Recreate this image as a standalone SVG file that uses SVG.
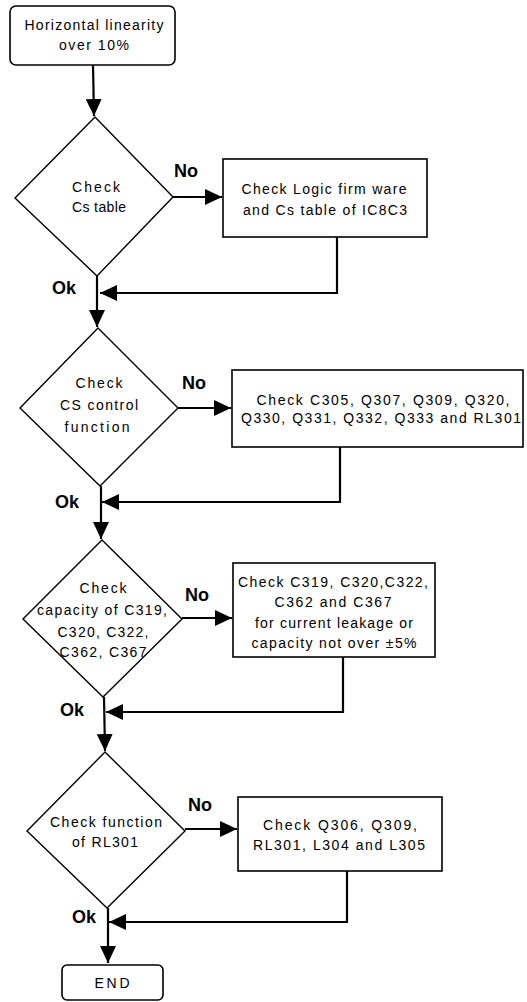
<svg xmlns="http://www.w3.org/2000/svg" width="527" height="1002" viewBox="0 0 527 1002">
<style>
.box{fill:#fff;stroke:#000;stroke-width:1.6}
.dia{fill:#fff;stroke:#000;stroke-width:1.4}
.t{font-family:"Liberation Sans",Arial,sans-serif;font-size:14px;fill:#000;text-anchor:middle}
.lbl{font-family:"Liberation Sans",Arial,sans-serif;font-size:18px;font-weight:bold;fill:#000}
.c{fill:none;stroke:#000;stroke-width:2.2}
</style>
<defs>
<marker id="ah" markerUnits="userSpaceOnUse" markerWidth="18" markerHeight="16" refX="17" refY="8" orient="auto">
<path d="M0,0 L17,8 L0,16 Z" fill="#000"/>
</marker>
</defs>
<rect width="527" height="1002" fill="#fff"/>
<g id="connectors">
<line class="c" x1="93" y1="65" x2="94" y2="116" marker-end="url(#ah)"/>
<line class="c" x1="173" y1="197" x2="222" y2="197" marker-end="url(#ah)"/>
<polyline class="c" points="337,237 337,293 100,293" marker-end="url(#ah)"/>
<line class="c" x1="97" y1="276" x2="97" y2="327" marker-end="url(#ah)"/>
<line class="c" x1="178" y1="408" x2="231" y2="408" marker-end="url(#ah)"/>
<polyline class="c" points="340,447 340,502 102,502" marker-end="url(#ah)"/>
<line class="c" x1="101" y1="486" x2="101" y2="539" marker-end="url(#ah)"/>
<line class="c" x1="182" y1="618" x2="232" y2="618" marker-end="url(#ah)"/>
<polyline class="c" points="343,657 343,712 106,712" marker-end="url(#ah)"/>
<line class="c" x1="104" y1="697" x2="105" y2="751" marker-end="url(#ah)"/>
<line class="c" x1="185" y1="829" x2="237" y2="829" marker-end="url(#ah)"/>
<polyline class="c" points="347,871 347,922 109,922" marker-end="url(#ah)"/>
<line class="c" x1="108" y1="908" x2="108" y2="963" marker-end="url(#ah)"/>
</g>
<g id="start">
<rect class="box" x="10" y="6" width="165" height="59" rx="6"/>
<text class="t" x="94" y="30" textLength="139">Horizontal linearity</text>
<text class="t" x="94" y="50" textLength="70">over 10%</text>
</g>
<g id="d1">
<polygon class="dia" points="95,117 173,197 97,276 15,198"/>
<text class="t" x="96" y="192" textLength="48">Check</text>
<text class="t" x="99" y="212" textLength="54">Cs table</text>
</g>
<g id="no1"><text class="lbl" x="174" y="177">No</text></g>
<g id="b1">
<rect class="box" x="223" y="159" width="204" height="78"/>
<text class="t" x="324" y="194" textLength="165">Check Logic firm ware</text>
<text class="t" x="325" y="215" textLength="164">and Cs table of IC8C3</text>
</g>
<g id="ok1"><text class="lbl" x="52" y="294">Ok</text></g>
<g id="d2">
<polygon class="dia" points="98,328 178,408 100,486 20,408"/>
<text class="t" x="99" y="388" textLength="47">Check</text>
<text class="t" x="99" y="410" textLength="78">CS control</text>
<text class="t" x="97" y="432" textLength="65">function</text>
</g>
<g id="no2"><text class="lbl" x="182" y="389">No</text></g>
<g id="b2">
<rect class="box" x="232" y="370" width="291" height="77"/>
<text class="t" x="383" y="405" textLength="253">Check C305, Q307, Q309, Q320,</text>
<text class="t" x="381" y="423" textLength="280">Q330, Q331, Q332, Q333 and RL301</text>
</g>
<g id="ok2"><text class="lbl" x="55" y="508">Ok</text></g>
<g id="d3">
<polygon class="dia" points="102,540 182,619 103,697 23,619"/>
<text class="t" x="103" y="593" textLength="47">Check</text>
<text class="t" x="102" y="615" textLength="130">capacity of C319,</text>
<text class="t" x="103" y="637" textLength="91">C320, C322,</text>
<text class="t" x="103" y="657" textLength="87">C362, C367</text>
</g>
<g id="no3"><text class="lbl" x="185" y="601">No</text></g>
<g id="b3">
<rect class="box" x="233" y="563" width="202" height="94"/>
<text class="t" x="333" y="587" textLength="190">Check C319, C320,C322,</text>
<text class="t" x="333" y="607" textLength="117">C362 and C367</text>
<text class="t" x="334" y="628" textLength="158">for current leakage or</text>
<text class="t" x="334" y="648" textLength="165">capacity not over ±5%</text>
</g>
<g id="ok3"><text class="lbl" x="60" y="716">Ok</text></g>
<g id="d4">
<polygon class="dia" points="105,752 185,831 107,908 27,831"/>
<text class="t" x="106" y="827" textLength="112">Check function</text>
<text class="t" x="105" y="847" textLength="66">of RL301</text>
</g>
<g id="no4"><text class="lbl" x="188" y="811">No</text></g>
<g id="b4">
<rect class="box" x="238" y="797" width="204" height="74"/>
<text class="t" x="340" y="830" textLength="154">Check Q306, Q309,</text>
<text class="t" x="339" y="850" textLength="172">RL301, L304 and L305</text>
</g>
<g id="ok4"><text class="lbl" x="72" y="923">Ok</text></g>
<g id="end">
<rect class="box" x="62" y="965" width="101" height="35" rx="5"/>
<text class="t" x="112" y="988" textLength="35">END</text>
</g>
</svg>
